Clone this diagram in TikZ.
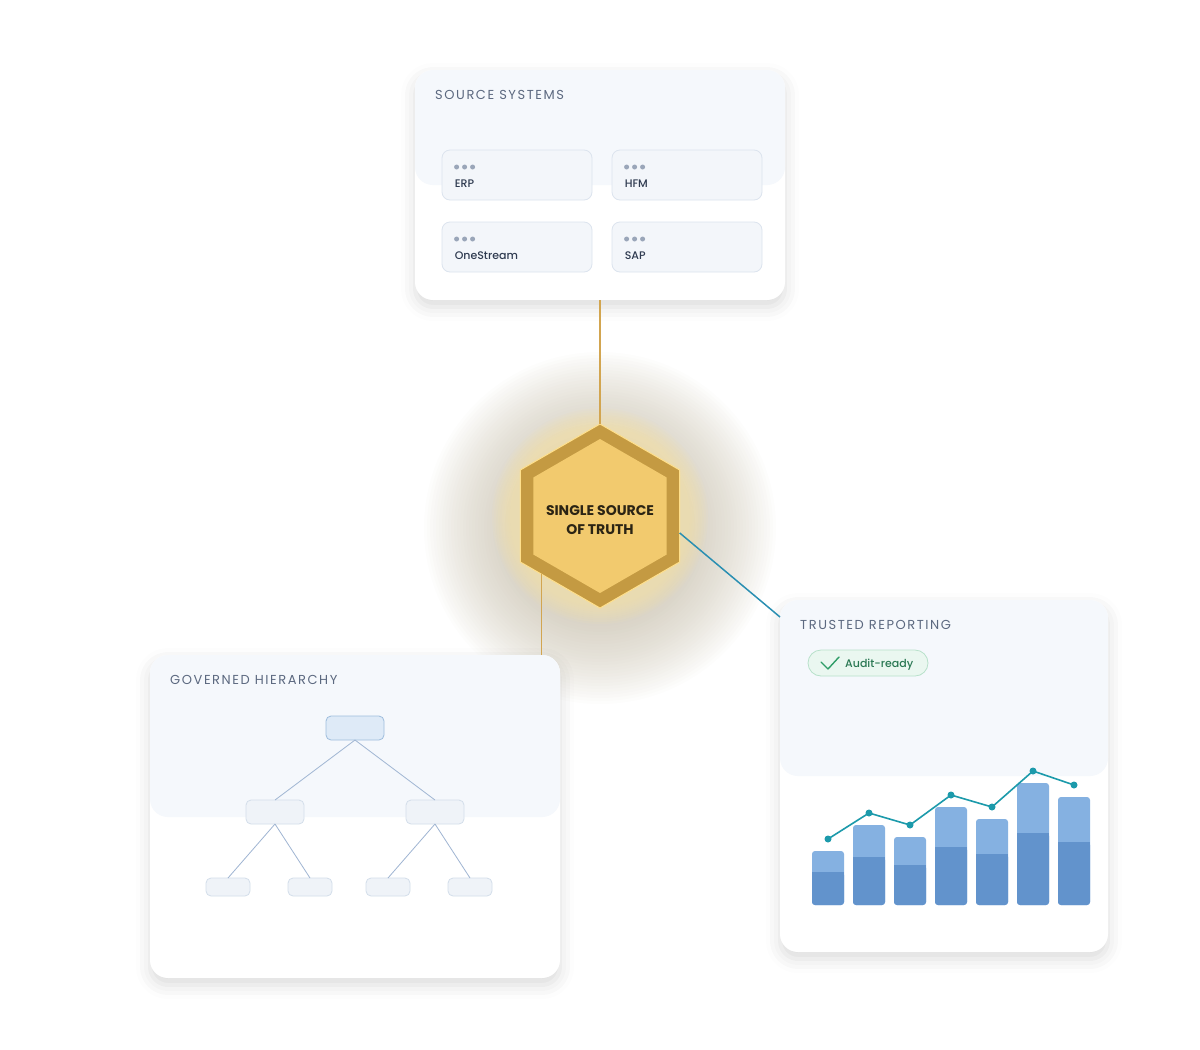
\documentclass[tikz,border=0pt]{standalone}
\usepackage{fontspec}
\setmainfont{Poppins}
\newfontface\poppinsmed{Poppins Medium}
\usetikzlibrary{shapes.geometric,shadows.blur,positioning}
\definecolor{bandblue}{HTML}{F5F8FC}
\definecolor{itemfill}{HTML}{F3F6FA}
\definecolor{itemline}{HTML}{DCE4EE}
\definecolor{titlegray}{HTML}{5C6980}
\definecolor{itemtext}{HTML}{2F3B50}
\definecolor{dotgray}{HTML}{9AA6B9}
\definecolor{golddark}{HTML}{C49A42}
\definecolor{goldlight}{HTML}{F2CA6E}
\definecolor{goldedge}{HTML}{FFE08C}
\definecolor{goldline}{HTML}{D2A550}
\definecolor{tealline}{HTML}{2A8FB2}
\definecolor{hextext}{HTML}{2B2414}
\definecolor{treeline}{HTML}{9FB5D2}
\definecolor{rootfill}{HTML}{DEEAF7}
\definecolor{rootline}{HTML}{9EBDDD}
\definecolor{leaffill}{HTML}{EFF3F8}
\definecolor{leafline}{HTML}{D3DEEA}
\definecolor{badgefill}{HTML}{EAF7F0}
\definecolor{badgeline}{HTML}{B7E1CA}
\definecolor{okgreen}{HTML}{2F9D68}
\definecolor{oktext}{HTML}{2A7853}
\definecolor{barlight}{HTML}{85B1E1}
\definecolor{bardark}{HTML}{6293CC}
\definecolor{trend}{HTML}{1C9AAB}
\definecolor{glowgray}{HTML}{B8AE96}
\definecolor{glowyel}{HTML}{FBE6A6}

\begin{document}
\begin{tikzpicture}[x=1pt, y=-1pt, >=latex,
  cardshadow/.style={rounded corners=18pt, inner sep=0pt, outer sep=0pt,
    blur shadow={shadow xshift=0pt, shadow yshift=-7pt, shadow blur radius=14pt, shadow opacity=14}},
  cardbody/.style={fill=white, rounded corners=18pt},
  band/.style={fill=bandblue, rounded corners=18pt, anchor=north, inner sep=0pt, outer sep=0pt},
  cardtitle/.style={anchor=base west, inner sep=0pt, text=titlegray,
    font=\fontsize{13}{15}\selectfont\addfontfeatures{LetterSpace=12}},
  srcitem/.style={fill=itemfill, draw=itemline, line width=0.8pt, rounded corners=8pt,
    minimum width=150, minimum height=50, inner sep=0pt},
  itemlabel/.style={anchor=base west, inner sep=0pt, text=itemtext, font=\poppinsmed\fontsize{11}{13}\selectfont},
  rootbox/.style={fill=rootfill, draw=rootline, line width=0.8pt, rounded corners=5pt,
    minimum width=58, minimum height=24, inner sep=0pt, outer sep=0pt},
  treebox/.style={fill=leaffill, draw=leafline, line width=0.8pt, rounded corners=5pt,
    minimum width=58, minimum height=24, inner sep=0pt, outer sep=0pt},
  leafbox/.style={treebox, minimum width=44, minimum height=18},
  treeedge/.style={treeline, line width=0.8pt},
  hexbox/.style={regular polygon, regular polygon sides=6, shape border rotate=30, inner sep=0pt, outer sep=0pt},
  link/.style={line width=1.5pt}
]
\useasboundingbox (0,0) rectangle (1200,1050);

% card outlines, shadow only
\node (Src)[cardshadow, minimum width=370, minimum height=230] at (600,185) {};
\node (Gov)[cardshadow, minimum width=410, minimum height=323] at (355,816.5) {};
\node (Trust)[cardshadow, minimum width=328, minimum height=352] at (944,776) {};

% glow behind the hexagon
\foreach \r in {92,95,...,178}
  \fill[glowgray, opacity=0.026] (600,528) circle (\r);
\foreach \r in {90,92,...,108}
  \fill[glowyel, opacity=0.08] (600,516) circle (\r);

% source systems
\fill[cardbody] (Src.north west) rectangle (Src.south east);
\node (SrcBand)[band, minimum width=370, minimum height=115] at (Src.north) {};
\node (SrcTitle)[cardtitle] at (435,99) {SOURCE SYSTEMS};
\foreach \nm/\cx/\cy/\txt in {ERP/517/175/ERP, HFM/687/175/HFM, OS/517/247/OneStream, SAP/687/247/SAP}{
  \node (\nm)[srcitem] at (\cx,\cy) {};
  \foreach \d in {0,8,16}
    \fill[dotgray] ([xshift=15pt+\d pt, yshift=8pt]\nm.west) circle (2.5);
  \node (\nm-lbl)[itemlabel] at ([xshift=13pt, yshift=-12pt]\nm.west) {\txt};
}

% governed hierarchy
\fill[cardbody] (Gov.north west) rectangle (Gov.south east);
\node (GovBand)[band, minimum width=410, minimum height=162] at (Gov.north) {};
\node (GovTitle)[cardtitle] at (170,684) {GOVERNED HIERARCHY};
\node (Root)[rootbox] at (355,728) {};
\node (MidL)[treebox] at (275,812) {};
\node (MidR)[treebox] at (435,812) {};
\node (LeafA)[leafbox] at (228,887) {};
\node (LeafB)[leafbox] at (310,887) {};
\node (LeafC)[leafbox] at (388,887) {};
\node (LeafD)[leafbox] at (470,887) {};
\draw[treeedge] (Root.south) -- (MidL.north);
\draw[treeedge] (Root.south) -- (MidR.north);
\draw[treeedge] (MidL.south) -- (LeafA.north);
\draw[treeedge] (MidL.south) -- (LeafB.north);
\draw[treeedge] (MidR.south) -- (LeafC.north);
\draw[treeedge] (MidR.south) -- (LeafD.north);

% trusted reporting
\fill[cardbody] (Trust.north west) rectangle (Trust.south east);
\node (TrustBand)[band, minimum width=328, minimum height=176] at (Trust.north) {};
\node (TrustTitle)[cardtitle] at (800,629) {TRUSTED REPORTING};
\node (Badge)[fill=badgefill, draw=badgeline, line width=0.8pt, rounded corners=13pt,
  minimum width=120, minimum height=26, inner sep=0pt] at (868,663) {};
\draw[okgreen, line width=1.4pt, line cap=round, line join=round] (821,662) -- (828,669) -- (839,657);
\node (BadgeTxt)[anchor=base west, inner sep=0pt, text=oktext, font=\poppinsmed\fontsize{11}{13}\selectfont] at (845,667) {Audit-ready};
\foreach \bx/\btop/\bmid in {812/851/872, 853/825/857, 894/837/865, 935/807/847, 976/819/854, 1017/783/833, 1058/797/842}{
  \fill[barlight, rounded corners=3pt] (\bx,\btop) rectangle (\bx+32,905);
  \fill[bardark, rounded corners=3pt] (\bx,\bmid) rectangle (\bx+32,905);
  \fill[bardark] (\bx,\bmid) rectangle (\bx+32,\bmid+4);
}
\draw[trend, line width=1.6pt, line join=round] (828,839) -- (869,813) -- (910,825) -- (951,795) -- (992,807) -- (1033,771) -- (1074,785);
\foreach \px/\py in {828/839, 869/813, 910/825, 951/795, 992/807, 1033/771, 1074/785}
  \fill[trend] (\px,\py) circle (3.5);

% single source of truth
\node (Hex)[hexbox, minimum size=184, fill=golddark, draw=goldedge, line width=1pt] at (600,516) {};
\node (HexIn)[hexbox, minimum size=154, fill=goldlight] at (Hex.center) {};
\node (HexLbl)[align=center, inner sep=0pt, text=hextext, font=\bfseries\fontsize{14}{19}\selectfont]
  at ([yshift=-4pt]Hex.center) {SINGLE SOURCE\\OF TRUTH};

% links
\draw[goldline, link] (Src.south) -- (Hex.north);
\draw[goldline, link] (Hex.225) -- (Hex.225 |- Gov.north);
\draw[tealline, link] (Hex.-12) -- ([yshift=-17pt]Trust.north west);
\end{tikzpicture}
\end{document}
